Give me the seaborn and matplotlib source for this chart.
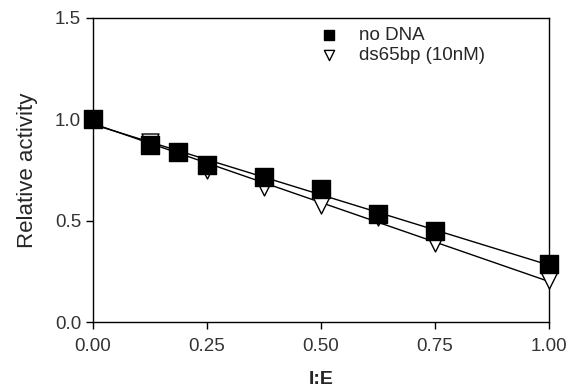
import numpy as np
import pandas as pd
import matplotlib
matplotlib.use("Agg")
import matplotlib.pyplot as plt
import seaborn as sns

ratio = [0.0, 0.125, 0.1875, 0.25, 0.375, 0.5, 0.625, 0.75, 1.0]
no_dna = [1.0, 0.873, 0.84, 0.775, 0.715, 0.655, 0.533, 0.449, 0.286]
ds65bp = [1.0, 0.89, 0.84, 0.75, 0.667, 0.577, 0.52, 0.39, 0.207]

sns.set_style("ticks")
plt.rcParams['font.family'] = ['Liberation Sans', 'DejaVu Sans']

fig, ax = plt.subplots(figsize=(5.7, 3.92), dpi=100)

df = pd.DataFrame({'ratio': ratio, 'no DNA': no_dna, 'ds65bp (10nM)': ds65bp})

for col in ['no DNA', 'ds65bp (10nM)']:
    sns.regplot(data=df, x='ratio', y=col, ax=ax, scatter=False, ci=None,
                truncate=True, color='black', line_kws={'lw': 1.0})

ax.scatter(df['ratio'], df['ds65bp (10nM)'], marker='v', s=150, facecolor='white',
           edgecolor='black', linewidth=1.0, zorder=3, label='ds65bp (10nM)',
           clip_on=False)
ax.scatter(df['ratio'], df['no DNA'], marker='s', s=150, color='black',
           zorder=4, label='no DNA', clip_on=False)

ax.set_xlim(0, 1.0)
ax.set_ylim(0, 1.5)
ax.set_xticks([0, 0.25, 0.5, 0.75, 1.0])
ax.set_xticklabels(['0.00', '0.25', '0.50', '0.75', '1.00'])
ax.set_yticks([0, 0.5, 1.0, 1.5])
ax.set_yticklabels(['0.0', '0.5', '1.0', '1.5'])
ax.tick_params(labelsize=13.5, color='black', labelcolor='#333333', length=5, width=1)
ax.tick_params(axis='x', pad=6)
for s in ax.spines.values():
    s.set_visible(True)
    s.set_color('black')
    s.set_linewidth(1.0)

ax.set_xlabel('I:E', fontsize=14, fontweight='bold', labelpad=12)
ax.set_ylabel('Relative activity', fontsize=16, labelpad=12)

handles, labels = ax.get_legend_handles_labels()
ax.legend(handles[::-1], labels[::-1], loc='upper right', frameon=False,
          fontsize=13.5, handletextpad=0.6, borderaxespad=0.1, labelspacing=0.15,
          markerscale=0.6, bbox_to_anchor=(0.88, 1.0))

fig.subplots_adjust(left=0.163, right=0.963, top=0.955, bottom=0.178)
fig.savefig('out.png', dpi=100)
